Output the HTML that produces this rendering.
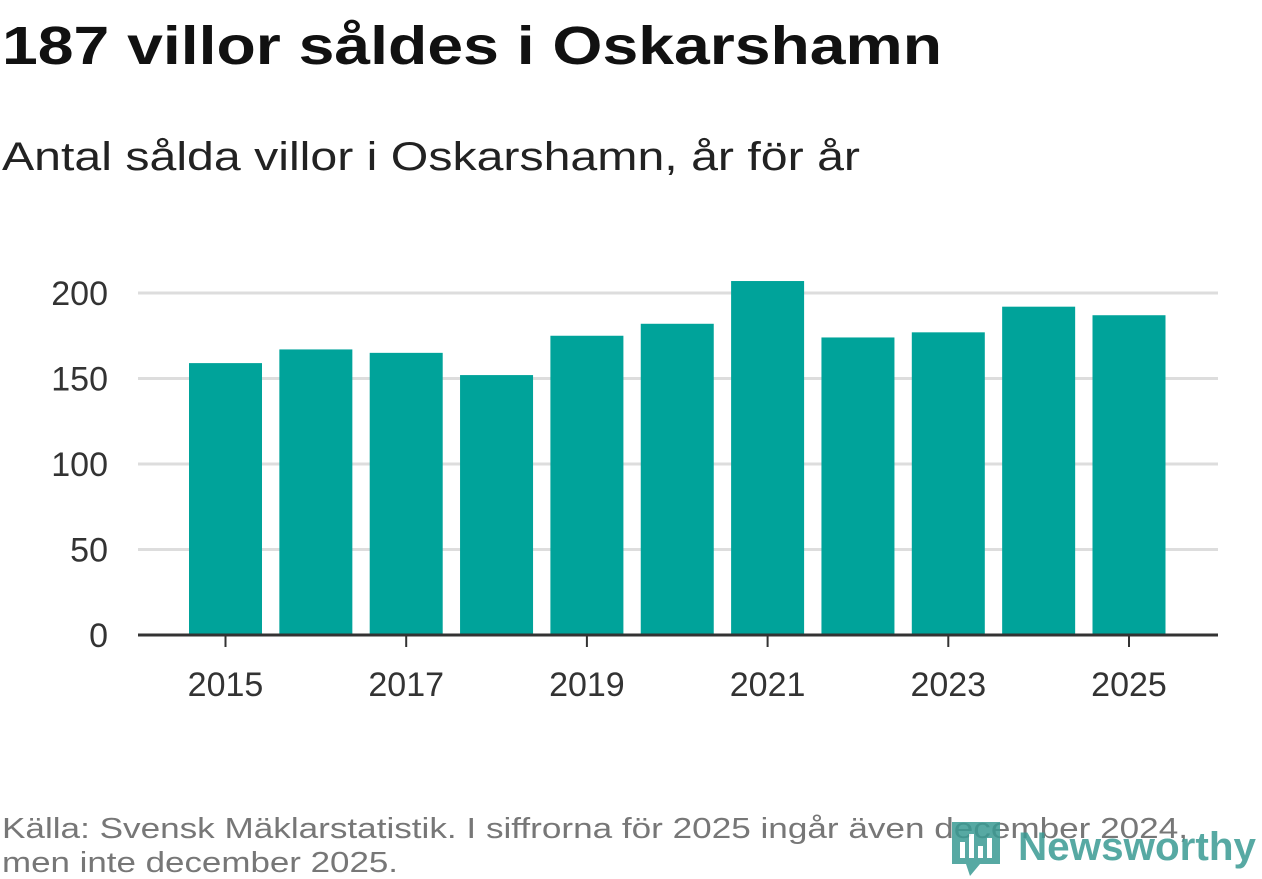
<!DOCTYPE html>
<html><head><meta charset="utf-8"><style>
html,body{margin:0;padding:0;background:#fff;}
svg{display:block;font-family:"Liberation Sans","DejaVu Sans",sans-serif;}
</style></head><body>
<svg id="chart" width="1262" height="879" viewBox="0 0 1262 879">
<text x="2" y="64" font-size="54" font-weight="bold" fill="#111" textLength="940" lengthAdjust="spacingAndGlyphs">187 villor såldes i Oskarshamn</text>
<text x="2" y="170" font-size="40" fill="#222" textLength="858" lengthAdjust="spacingAndGlyphs">Antal sålda villor i Oskarshamn, år för år</text>
<g id="grid"></g>
<g id="bars"></g>
<g id="xaxis"></g>
<text x="2" y="838" font-size="29" fill="#777" textLength="1186" lengthAdjust="spacingAndGlyphs">Källa: Svensk Mäklarstatistik. I siffrorna för 2025 ingår även december 2024,</text>
<text x="2" y="872" font-size="29" fill="#777" textLength="396" lengthAdjust="spacingAndGlyphs">men inte december 2025.</text>
<g opacity="0.85">
<path d="M952 822 h48 v42 h-20 l-10 12 l-4 -12 h-14 z" fill="#3a9b94"/>
<rect x="960" y="842" width="5" height="16" fill="#fff"/><rect x="969" y="834" width="5" height="24" fill="#fff"/><rect x="978" y="846" width="5" height="12" fill="#fff"/><rect x="987" y="838" width="5" height="20" fill="#fff"/>
<text x="1018" y="860" font-size="40" font-weight="bold" fill="#3a9b94" textLength="238" lengthAdjust="spacingAndGlyphs">Newsworthy</text>
</g>
</svg>
<script>
const years=[2015,2016,2017,2018,2019,2020,2021,2022,2023,2024,2025];
const values=[159,167,165,152,175,182,207,174,177,192,187];
const yTicks=[0,50,100,150,200];
const xTickLabels=[2015,2017,2019,2021,2023,2025];
const NS="http://www.w3.org/2000/svg";
const x0=225.5, step=90.35, barW=73;
const yZero=635, pxPerUnit=1.71;
function xScale(yr){return x0+(yr-years[0])*step;}
function yScale(v){return yZero-v*pxPerUnit;}
function mk(tag,attrs,parent){const e=document.createElementNS(NS,tag);for(const k in attrs)e.setAttribute(k,attrs[k]);parent.appendChild(e);return e;}
const grid=document.getElementById('grid');
yTicks.forEach(t=>{
  const y=yScale(t);
  if(t>0){const l=mk('line',{x1:138,x2:1218,y1:y,y2:y,stroke:'#ddd','stroke-width':3},grid);
  
  }
  const tx=mk('text',{x:108,y:y+12,'font-size':34,fill:'#333','text-anchor':'end'},grid);
  tx.textContent=t;
  
  
});
const bars=document.getElementById('bars');
years.forEach((yr,i)=>{
  const r=mk('rect',{x:xScale(yr)-barW/2,y:yScale(values[i]),width:barW,height:values[i]*pxPerUnit,fill:'#00a39a'},bars);
  
  
});
const xa=document.getElementById('xaxis');
const ax=mk('line',{x1:138,x2:1218,y1:yZero,y2:yZero,stroke:'#333','stroke-width':3},xa);


xTickLabels.forEach(yr=>{
  const x=xScale(yr);
  const tk=mk('line',{x1:x,x2:x,y1:yZero,y2:yZero+12,stroke:'#333','stroke-width':2},xa);
  
  
  const t=mk('text',{x:x,y:696,'font-size':34,fill:'#333','text-anchor':'middle'},xa);
  t.textContent=yr;
  
  
});
</script>
</body></html>
